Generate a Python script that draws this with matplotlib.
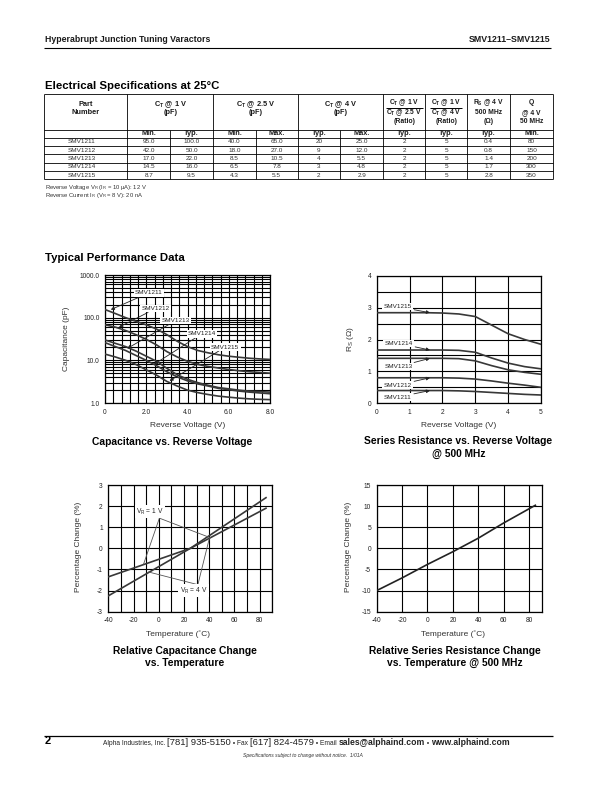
import matplotlib
matplotlib.use('Agg')
import matplotlib.pyplot as plt
import numpy as np
from matplotlib import font_manager as fm
from matplotlib.ticker import LogLocator, MultipleLocator, NullFormatter

names = {f.name for f in fm.fontManager.ttflist}
SANS = 'Liberation Sans' if 'Liberation Sans' in names else 'DejaVu Sans'
NARROW = 'Liberation Sans Narrow' if 'Liberation Sans Narrow' in names else SANS

plt.rcParams['font.family'] = [SANS, 'DejaVu Sans']
plt.rcParams['mathtext.fontset'] = 'custom'
plt.rcParams['mathtext.rm'] = SANS
plt.rcParams['mathtext.it'] = SANS + ':italic'
plt.rcParams['mathtext.bf'] = SANS + ':bold'
plt.rcParams['axes.unicode_minus'] = False

# ---------------- data ----------------
parts = ['SMV1211', 'SMV1212', 'SMV1213', 'SMV1214', 'SMV1215']
ct1_min = [95.0, 42.0, 17.0, 14.5, 8.7]
ct1_typ = [100.0, 50.0, 22.0, 16.0, 9.5]
ct25_min = [40.0, 18.0, 8.5, 6.5, 4.3]
ct25_max = [65.0, 27.0, 10.5, 7.8, 5.5]
ct4_typ = [20, 9, 4, 3, 2]
ct4_max = [25.0, 12.0, 5.5, 4.8, 2.9]
ratio_1_25 = [2, 2, 2, 2, 2]
ratio_1_4 = [5, 5, 5, 5, 5]
rs_typ = [0.4, 0.8, 1.4, 1.7, 2.8]
q_min = [80, 150, 200, 300, 350]

# capacitance vs reverse voltage
cap_v = [0, 0.5, 1, 1.5, 2, 2.5, 3, 3.5, 4, 4.5, 5, 5.5, 6, 6.5, 7, 7.5, 8]
cap_1211 = [155, 125, 100, 82, 68, 54, 40, 28, 21, 17, 15, 13.5, 12.5, 11.8, 11.2, 10.8, 10.5]
cap_1212 = [68, 60, 50, 40, 31, 23, 16, 12, 9.5, 8, 7.2, 6.6, 6.1, 5.7, 5.4, 5.2, 5.0]
cap_1213 = [30, 25, 21, 16.5, 12.5, 9.5, 6.5, 4.6, 3.6, 3.0, 2.6, 2.3, 2.15, 2.0, 1.9, 1.85, 1.8]
cap_1214 = [26, 21, 17, 13, 10, 7.5, 5.4, 4.1, 3.3, 2.8, 2.5, 2.2, 2.05, 1.9, 1.8, 1.72, 1.65]
cap_1215 = [14, 12, 10, 8, 6, 4.5, 3.2, 2.5, 2.0, 1.75, 1.58, 1.45, 1.37, 1.3, 1.25, 1.22, 1.2]

# series resistance vs reverse voltage
rs_v = [0, 0.5, 1, 1.5, 2, 2.5, 3, 3.5, 4, 4.5, 5]
rs_1211 = [0.40, 0.40, 0.40, 0.40, 0.40, 0.39, 0.37, 0.34, 0.31, 0.28, 0.26]
rs_1212 = [0.80, 0.80, 0.80, 0.80, 0.80, 0.79, 0.76, 0.70, 0.63, 0.57, 0.50]
rs_1213 = [1.41, 1.41, 1.41, 1.41, 1.41, 1.40, 1.33, 1.18, 1.05, 0.97, 0.91]
rs_1214 = [1.67, 1.67, 1.67, 1.67, 1.67, 1.66, 1.60, 1.42, 1.26, 1.15, 1.08]
rs_1215 = [2.84, 2.84, 2.84, 2.84, 2.83, 2.80, 2.72, 2.45, 2.18, 2.00, 1.85]

# relative capacitance change vs temperature
tc_temp = [-40, 25, 85]
tc_vr1 = [-1.35, 0.0, 1.9]
tc_vr4 = [-2.25, 0.0, 2.4]

# relative series resistance change vs temperature
tr_temp = [-40, -20, 0, 20, 40, 60, 85]
tr_change = [-10, -7, -3.8, -0.8, 2.4, 6.0, 10.2]

# ---------------- figure ----------------
W, H = 612, 792
fig = plt.figure(figsize=(W / 100, H / 100), dpi=100)
bg = fig.add_axes([0, 0, 1, 1])
bg.set_xlim(0, W)
bg.set_ylim(H, 0)
bg.axis('off')

TXT = '#1a1a1a'


def rect(l, t, r, b):
    return [l / W, 1 - b / H, (r - l) / W, (b - t) / H]


def hline(y, x0, x1, lw=0.6, color='k'):
    bg.plot([x0, x1], [y, y], color=color, lw=lw, solid_capstyle='butt')


def vline(x, y0, y1, lw=0.6, color='k'):
    bg.plot([x, x], [y0, y1], color=color, lw=lw, solid_capstyle='butt')


# header
bg.text(45, 40, 'Hyperabrupt Junction Tuning Varactors', fontsize=6.3, fontweight='bold',
        ha='left', va='center', color=TXT)
bg.text(550, 40, 'SMV1211–SMV1215', fontsize=6.3, fontweight='bold', ha='right', va='center', color=TXT)
hline(48.3, 44, 551, lw=0.8)

bg.text(45, 86, 'Electrical Specifications at 25°C', fontsize=8.2, fontweight='bold',
        family=[NARROW, SANS], ha='left', va='center', color='k')

# ---------------- table ----------------
tx = [44, 127.3, 213.3, 297.7, 383.3, 425, 467.3, 510, 553.3]
tsplit = [170, 255.7, 340]
ty_top, ty_h1, ty_h2 = 94, 130, 137.7
row_h = 8.33
nrow = len(parts)
ty_bot = ty_h2 + nrow * row_h

for x in tx:
    vline(x, ty_top, ty_bot)
for x in tsplit:
    vline(x, ty_h1, ty_bot)
hline(ty_top, tx[0], tx[-1])
hline(ty_h1, tx[0], tx[-1])
hline(ty_h2, tx[0], tx[-1])
for i in range(1, nrow + 1):
    hline(ty_h2 + i * row_h, tx[0], tx[-1])

HF = 5.3
y1, y2, y3 = 103, 112.6, 121.6


def htext(x, y, s, fs=HF):
    bg.text(x, y, s, fontsize=fs, fontweight='bold', ha='center', va='center', color=TXT)


c = lambda a, b: (a + b) / 2
htext(c(tx[0], tx[1]), 105, 'Part')
htext(c(tx[0], tx[1]), 113, 'Number')
htext(c(tx[1], tx[2]), 105, r'C$_{\mathbf{T}}$ @ 1 V')
htext(c(tx[1], tx[2]), 113, '(pF)')
htext(c(tx[2], tx[3]), 105, r'C$_{\mathbf{T}}$ @ 2.5 V')
htext(c(tx[2], tx[3]), 113, '(pF)')
htext(c(tx[3], tx[4]), 105, r'C$_{\mathbf{T}}$ @ 4 V')
htext(c(tx[3], tx[4]), 113, '(pF)')
RF = 4.9
htext(c(tx[4], tx[5]), y1, r'C$_{\mathbf{T}}$ @ 1 V', RF)
htext(c(tx[4], tx[5]), y2, r'C$_{\mathbf{T}}$ @ 2.5 V', RF)
htext(c(tx[4], tx[5]), y3, '(Ratio)', RF)
hline(108.0, tx[4] + 3, tx[5] - 2, lw=0.7)
htext(c(tx[5], tx[6]), y1, r'C$_{\mathbf{T}}$ @ 1 V', RF)
htext(c(tx[5], tx[6]), y2, r'C$_{\mathbf{T}}$ @ 4 V', RF)
htext(c(tx[5], tx[6]), y3, '(Ratio)', RF)
hline(108.0, tx[5] + 5, tx[6] - 5, lw=0.7)
htext(c(tx[6], tx[7]), y1, r'R$_{\mathbf{S}}$ @ 4 V', RF)
htext(c(tx[6], tx[7]), y2, '500 MHz', RF)
htext(c(tx[6], tx[7]), y3, '(Ω)', RF)
htext(c(tx[7], tx[8]), y1, 'Q', RF)
htext(c(tx[7], tx[8]), y2, '@ 4 V', RF)
htext(c(tx[7], tx[8]), y3, '50 MHz', RF)

sub_cols = [(tx[1], tsplit[0]), (tsplit[0], tx[2]), (tx[2], tsplit[1]), (tsplit[1], tx[3]),
            (tx[3], tsplit[2]), (tsplit[2], tx[4]), (tx[4], tx[5]), (tx[5], tx[6]),
            (tx[6], tx[7]), (tx[7], tx[8])]
sub_lbls = ['Min.', 'Typ.', 'Min.', 'Max.', 'Typ.', 'Max.', 'Typ.', 'Typ.', 'Typ.', 'Min.']
for (a, b), s in zip(sub_cols, sub_lbls):
    htext(c(a, b), c(ty_h1, ty_h2), s)

cols = [[f'{v:.1f}' for v in ct1_min], [f'{v:.1f}' for v in ct1_typ],
        [f'{v:.1f}' for v in ct25_min], [f'{v:.1f}' for v in ct25_max],
        [f'{v}' for v in ct4_typ], [f'{v:.1f}' for v in ct4_max],
        [f'{v}' for v in ratio_1_25], [f'{v}' for v in ratio_1_4],
        [f'{v:.1f}' for v in rs_typ], [f'{v}' for v in q_min]]
DF = 4.6
for i, p in enumerate(parts):
    yc = ty_h2 + (i + 0.5) * row_h
    bg.text(c(tx[0], tx[1]) - 4, yc, p, fontsize=DF, ha='center', va='center', color='#333')
    for (a, b), col in zip(sub_cols, cols):
        bg.text(c(a, b), yc, col[i], fontsize=DF, ha='center', va='center', color='#333')

bg.text(45, 187, r'Reverse Voltage V$_\mathrm{R}$ (I$_\mathrm{R}$ = 10 μA): 12 V', fontsize=4.2,
        ha='left', va='center', color='#333')
bg.text(45, 195, r'Reverse Current I$_\mathrm{R}$ (V$_\mathrm{R}$ = 8 V): 20 nA', fontsize=4.2,
        ha='left', va='center', color='#333')

bg.text(45, 258, 'Typical Performance Data', fontsize=8.2, fontweight='bold',
        family=[NARROW, SANS], ha='left', va='center', color='k')

LINE = '#383838'
TICKF = 4.8
LBLF = 6
TITF = 7.4


def style(ax):
    ax.set_axisbelow(True)
    ax.tick_params(which='both', length=0, labelsize=TICKF, pad=4, colors='#222')
    for s in ax.spines.values():
        s.set_linewidth(0.9)
        s.set_color('k')


# ---------------- chart 1: capacitance ----------------
ax1 = fig.add_axes(rect(105, 275, 270, 403))
for vals in [cap_1211, cap_1212, cap_1213, cap_1214, cap_1215]:
    ax1.plot(cap_v, vals, color=LINE, lw=1.2, zorder=3)
ax1.set_yscale('log')
ax1.set_ylim(1, 1000)
ax1.set_xlim(0, 8)
ax1.set_yticks([1, 10, 100, 1000])
ax1.set_yticklabels(['1.0', '10.0', '100.0', '1000.0'])
ax1.yaxis.set_minor_locator(LogLocator(base=10, subs=range(2, 10)))
ax1.yaxis.set_minor_formatter(NullFormatter())
ax1.set_xticks([0, 2, 4, 6, 8])
ax1.set_xticklabels(['0', '2.0', '4.0', '6.0', '8.0'])
ax1.xaxis.set_minor_locator(MultipleLocator(0.4))
ax1.grid(which='both', color='k', lw=0.8)
style(ax1)

cap_lbl_pos = [(2.13, 380), (2.45, 163), (3.42, 85), (4.70, 42), (5.83, 20.4)]
cap_arrow_pts = [(0.28, 154), (0.68, 60), (1.08, 19), (2.37, 8), (3.13, 3.3)]
for p, lp, ap in zip(parts, cap_lbl_pos, cap_arrow_pts):
    ax1.annotate(p, xy=ap, xytext=lp, fontsize=4.6, ha='center', va='center', color='#222',
                 zorder=5,
                 bbox=dict(boxstyle='square,pad=0.2', fc='white', ec='none'),
                 arrowprops=dict(arrowstyle='-|>', color='#222', lw=0.6, mutation_scale=5,
                                 shrinkA=0, shrinkB=0))

bg.text(66.7, 339, 'Capacitance (pF)', rotation=90, fontsize=LBLF, ha='center', va='center', color='#333')
bg.text(188, 425.5, 'Reverse Voltage (V)', fontsize=LBLF, ha='center', va='center', color='#333')
bg.text(172, 442, 'Capacitance vs. Reverse Voltage', fontsize=TITF, fontweight='bold',
        ha='center', va='center', color='k')

# ---------------- chart 2: series resistance ----------------
ax2 = fig.add_axes(rect(376.7, 275.7, 541, 403.3))
for vals in [rs_1211, rs_1212, rs_1213, rs_1214, rs_1215]:
    ax2.plot(rs_v, vals, color=LINE, lw=1.2, zorder=3)
ax2.set_xlim(0, 5)
ax2.set_ylim(0, 4)
ax2.set_xticks(range(0, 6))
ax2.set_yticks(range(0, 5))
ax2.yaxis.set_minor_locator(MultipleLocator(0.5))
ax2.grid(which='both', color='k', lw=0.8)
style(ax2)

rs_lbl_pos = [(0.63, 0.19), (0.63, 0.57), (0.66, 1.15), (0.66, 1.88), (0.63, 3.03)]
rs_arrow_pts = [(1.62, 0.40), (1.62, 0.80), (1.62, 1.41), (1.62, 1.67), (1.62, 2.84)]
for p, lp, ap in zip(parts, rs_lbl_pos, rs_arrow_pts):
    ax2.annotate(p, xy=ap, xytext=lp, fontsize=4.6, ha='center', va='center', color='#222',
                 zorder=5,
                 bbox=dict(boxstyle='square,pad=0.2', fc='white', ec='none'),
                 arrowprops=dict(arrowstyle='-|>', color='#222', lw=0.6, mutation_scale=5,
                                 shrinkA=1, shrinkB=0))

bg.text(350, 339.5, r'R$_\mathrm{S}$ (Ω)', rotation=90, fontsize=LBLF, ha='center', va='center', color='#333')
bg.text(458.5, 425.5, 'Reverse Voltage (V)', fontsize=LBLF, ha='center', va='center', color='#333')
bg.text(458.5, 441.5, 'Series Resistance vs. Reverse Voltage', fontsize=TITF, fontweight='bold',
        ha='center', va='center', color='k')
bg.text(458.5, 454, '@ 500 MHz', fontsize=TITF, fontweight='bold', ha='center', va='center', color='k')

# ---------------- chart 3: capacitance vs temperature ----------------
ax3 = fig.add_axes(rect(108.3, 485, 272.3, 611.7))
ax3.plot(tc_temp, tc_vr1, color=LINE, lw=1.2, zorder=3)
ax3.plot(tc_temp, tc_vr4, color=LINE, lw=1.2, zorder=3)
ax3.set_xlim(-40, 90)
ax3.set_ylim(-3, 3)
ax3.set_xticks(range(-40, 81, 20))
ax3.set_yticks(range(-3, 4))
ax3.xaxis.set_minor_locator(MultipleLocator(10))
ax3.grid(which='both', color='k', lw=0.8)
style(ax3)

vr1_leader = [(-12, -0.74), (0.5, 1.43), (41, 0.5)]
vr4_leader = [(-8, -1.12), (31, -1.72), (40, 0.45)]
ax3.plot([p[0] for p in vr1_leader], [p[1] for p in vr1_leader], color='#555', lw=0.6, zorder=4)
ax3.plot([p[0] for p in vr4_leader], [p[1] for p in vr4_leader], color='#555', lw=0.6, zorder=4)
ax3.text(-6.9, 1.74, r'V$_\mathrm{R}$ = 1 V', fontsize=4.8, ha='center', va='center', color='#222', zorder=5,
         bbox=dict(boxstyle='square,pad=0.25', fc='white', ec='none'))
ax3.text(27.6, -2.0, r'V$_\mathrm{R}$ = 4 V', fontsize=4.8, ha='center', va='center', color='#222', zorder=5,
         bbox=dict(boxstyle='square,pad=0.25', fc='white', ec='none'))

bg.text(78.3, 546.5, 'Percentage Change (%)', rotation=90, fontsize=LBLF, ha='center', va='center', color='#333')
bg.text(178.3, 634.5, 'Temperature (˚C)', fontsize=LBLF, ha='center', va='center', color='#333')
bg.text(185, 651, 'Relative Capacitance Change', fontsize=TITF, fontweight='bold',
        ha='center', va='center', color='k')
bg.text(185, 663, 'vs. Temperature', fontsize=TITF, fontweight='bold', ha='center', va='center', color='k')

# ---------------- chart 4: series resistance vs temperature ----------------
ax4 = fig.add_axes(rect(376.7, 485, 541.7, 611.7))
ax4.plot(tr_temp, tr_change, color='#222', lw=1.2, zorder=3)
ax4.set_xlim(-40, 90)
ax4.set_ylim(-15, 15)
ax4.set_xticks(range(-40, 81, 20))
ax4.set_yticks(range(-15, 16, 5))
ax4.grid(which='major', color='k', lw=0.8)
style(ax4)

bg.text(348.3, 546.5, 'Percentage Change (%)', rotation=90, fontsize=LBLF, ha='center', va='center', color='#333')
bg.text(452.7, 634.5, 'Temperature (˚C)', fontsize=LBLF, ha='center', va='center', color='#333')
bg.text(455, 651, 'Relative Series Resistance Change', fontsize=TITF, fontweight='bold',
        ha='center', va='center', color='k')
bg.text(455, 663, 'vs. Temperature @ 500 MHz', fontsize=TITF, fontweight='bold',
        ha='center', va='center', color='k')

# ---------------- footer ----------------
hline(736.3, 44, 553, lw=0.9)
bg.text(45, 741.5, '2', fontsize=8, fontweight='bold', ha='left', va='center', color='k')

renderer = fig.canvas.get_renderer()
pieces = [('Alpha Industries, Inc. ', 4.8, 'normal'), ('[781] 935-5150', 6.8, 'normal'),
          (' • Fax ', 4.8, 'normal'), ('[617] 824-4579', 6.8, 'normal'),
          (' • Email ', 4.8, 'normal'), ('sales@alphaind.com', 6.2, 'bold'),
          (' • ', 4.8, 'normal'), ('www.alphaind.com', 6.2, 'bold')]
x = 103
for s, fs, fw in pieces:
    t = bg.text(x, 745, s, fontsize=fs, fontweight=fw, ha='left', va='baseline', color='#222')
    bb = t.get_window_extent(renderer=renderer)
    x += bb.width
bg.text(303, 755.5, 'Specifications subject to change without notice.  1/01A', fontsize=3.6,
        style='italic', ha='center', va='center', color='#333')

fig.savefig('out.png', dpi=100)
